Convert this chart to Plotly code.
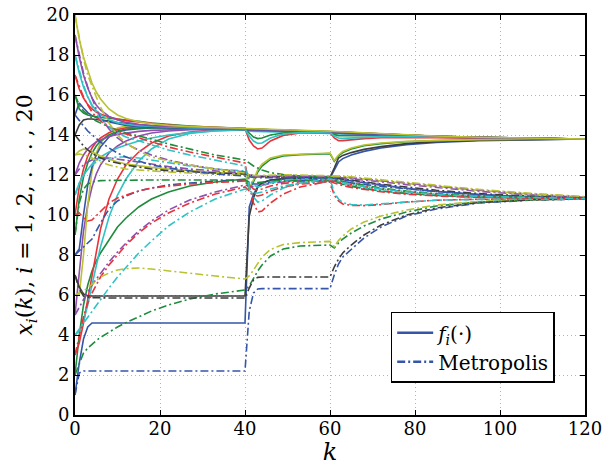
import plotly.graph_objects as go

K = [0, 1, 2, 3, 4, 5, 6, 8, 10, 12, 15, 18, 22, 27, 33, 40,
     41, 42, 43, 44, 46, 49, 53, 60,
     61, 62, 63, 65, 68, 72, 78, 85, 95, 108, 120]

# ---- f_i(.) trajectories (solid) ----
f1 = [1.0, 2.6, 3.8, 4.4, 4.6, 4.6, 4.6, 4.6, 4.6, 4.6, 4.6, 4.6, 4.6, 4.6, 4.6, 4.6,
      10.4, 11.05, 11.4, 11.6, 11.75, 11.8, 11.82, 11.85,
      12.25, 12.65, 12.82, 13.0, 13.18, 13.35, 13.52, 13.63, 13.72, 13.77, 13.8]
f2 = [2.0, 4.0, 5.5, 6.5, 7.2, 7.7, 8.1, 8.75, 9.4, 9.85, 10.4, 10.8, 11.15, 11.45, 11.65, 11.8,
      11.3, 11.65, 12.15, 12.45, 12.78, 12.95, 13.02, 13.07,
      12.68, 12.95, 13.12, 13.3, 13.46, 13.57, 13.66, 13.72, 13.76, 13.79, 13.8]
f3 = [3.0, 3.6, 4.6, 5.8, 7.1, 8.3, 9.3, 10.8, 11.8, 12.5, 13.15, 13.6, 13.95, 14.15, 14.25, 14.28,
      14.26, 14.25, 14.24, 14.23, 14.22, 14.2, 14.18, 14.14,
      14.12, 14.11, 14.1, 14.08, 14.05, 14.02, 13.97, 13.92, 13.87, 13.82, 13.8]
f4 = [4.0, 4.2, 4.7, 5.5, 6.5, 7.5, 8.4, 9.9, 11.0, 11.8, 12.7, 13.3, 13.8, 14.08, 14.22, 14.27,
      14.2, 14.18, 14.17, 14.17, 14.16, 14.15, 14.13, 14.1,
      14.08, 14.06, 14.05, 14.03, 14.0, 13.97, 13.93, 13.89, 13.85, 13.81, 13.79]
f5 = [5.0, 7.3, 9.2, 10.5, 11.4, 12.05, 12.5, 13.1, 13.45, 13.7, 13.95, 14.1, 14.2, 14.26, 14.28, 14.28,
      14.25, 14.24, 14.23, 14.22, 14.21, 14.19, 14.17, 14.13,
      14.11, 14.1, 14.09, 14.07, 14.04, 14.01, 13.96, 13.91, 13.86, 13.82, 13.8]
f6 = [6.0, 6.0, 8.0, 10.5, 12.2, 13.1, 13.6, 14.1, 14.35, 14.45, 14.48, 14.47, 14.44, 14.4, 14.36, 14.32,
      14.32, 14.31, 14.3, 14.29, 14.28, 14.26, 14.23, 14.18,
      14.17, 14.16, 14.15, 14.13, 14.1, 14.06, 14.0, 13.94, 13.88, 13.83, 13.8]
f7 = [7.0, 6.4, 6.05, 5.95, 5.95, 5.95, 5.95, 5.95, 5.95, 5.95, 5.95, 5.95, 5.95, 5.95, 5.95, 5.95,
      9.95, 10.85, 11.4, 11.6, 11.75, 11.82, 11.85, 11.88,
      12.35, 12.85, 12.98, 13.12, 13.28, 13.42, 13.57, 13.67, 13.74, 13.78, 13.8]
f8 = [8.0, 8.3, 10.0, 11.5, 12.4, 13.0, 13.4, 13.9, 14.15, 14.25, 14.32, 14.35, 14.35, 14.34, 14.32, 14.3,
      14.27, 14.26, 14.25, 14.24, 14.23, 14.21, 14.19, 14.15,
      14.13, 14.12, 14.11, 14.09, 14.06, 14.03, 13.98, 13.93, 13.87, 13.82, 13.8]
f9 = [9.0, 10.8, 11.9, 12.6, 13.1, 13.45, 13.7, 14.0, 14.2, 14.3, 14.35, 14.37, 14.37, 14.36, 14.34, 14.3,
      14.3, 14.29, 14.28, 14.27, 14.26, 14.24, 14.21, 14.16,
      14.15, 14.14, 14.13, 14.11, 14.08, 14.04, 13.99, 13.93, 13.88, 13.83, 13.8]
f10 = [10.0, 11.4, 12.3, 12.95, 13.35, 13.65, 13.85, 14.12, 14.28, 14.36, 14.42, 14.43, 14.41, 14.38, 14.35, 14.31,
       14.28, 14.27, 14.26, 14.25, 14.24, 14.22, 14.2, 14.16,
       14.14, 14.13, 14.12, 14.1, 14.07, 14.03, 13.98, 13.93, 13.87, 13.82, 13.8]
f11 = [11.0, 11.6, 12.0, 12.3, 12.55, 12.75, 12.9, 13.15, 13.35, 13.5, 13.7, 13.85, 14.0, 14.12, 14.2, 14.25,
       14.21, 14.2, 14.19, 14.18, 14.17, 14.16, 14.14, 14.11,
       14.09, 14.08, 14.07, 14.05, 14.02, 13.99, 13.95, 13.9, 13.86, 13.82, 13.8]
f12 = [12.0, 12.6, 13.0, 13.3, 13.5, 13.65, 13.75, 13.92, 14.03, 14.1, 14.18, 14.23, 14.27, 14.29, 14.29, 14.28,
       14.24, 14.23, 14.22, 14.21, 14.2, 14.18, 14.16, 14.12,
       14.1, 14.09, 14.08, 14.06, 14.03, 14.0, 13.96, 13.91, 13.86, 13.82, 13.8]
f13 = [13.0, 13.2, 13.3, 13.25, 13.15, 13.05, 12.95, 12.8, 12.65, 12.55, 12.45, 12.38, 12.3, 12.22, 12.13, 12.05,
       11.35, 11.75, 12.25, 12.55, 12.85, 13.0, 13.05, 13.1,
       12.72, 13.0, 13.18, 13.35, 13.5, 13.6, 13.68, 13.73, 13.77, 13.79, 13.8]
f14 = [14.0, 14.5, 14.75, 14.8, 14.8, 14.78, 14.75, 14.7, 14.62, 14.56, 14.5, 14.46, 14.42, 14.39, 14.35, 14.31,
       14.31, 14.3, 14.29, 14.28, 14.27, 14.25, 14.22, 14.17,
       14.16, 14.15, 14.14, 14.12, 14.09, 14.05, 14.0, 13.94, 13.88, 13.83, 13.8]
f15 = [15.0, 15.6, 15.35, 15.12, 14.97, 14.87, 14.78, 14.65, 14.55, 14.48, 14.42, 14.39, 14.37, 14.35, 14.33, 14.3,
       14.27, 14.26, 14.25, 14.24, 14.23, 14.21, 14.19, 14.15,
       14.13, 14.12, 14.11, 14.09, 14.06, 14.02, 13.97, 13.92, 13.87, 13.82, 13.8]
f16 = [16.0, 15.3, 15.1, 15.0, 14.95, 14.9, 14.88, 14.84, 14.8, 14.75, 14.68, 14.6, 14.52, 14.45, 14.38, 14.33,
       14.1, 13.9, 13.82, 13.85, 14.0, 14.1, 14.15, 14.15,
       14.02, 13.97, 13.96, 13.97, 13.98, 13.97, 13.95, 13.9, 13.86, 13.82, 13.8]
f17 = [17.0, 16.3, 15.85, 15.52, 15.3, 15.15, 15.05, 14.9, 14.8, 14.72, 14.65, 14.58, 14.5, 14.44, 14.38, 14.32,
       13.75, 13.45, 13.3, 13.35, 13.7, 13.98, 14.1, 14.12,
       13.85, 13.72, 13.72, 13.76, 13.82, 13.86, 13.88, 13.87, 13.84, 13.81, 13.8]
f18 = [18.0, 17.1, 16.4, 15.9, 15.5, 15.22, 15.02, 14.76, 14.62, 14.54, 14.47, 14.43, 14.4, 14.37, 14.34, 14.3,
       13.95, 13.7, 13.58, 13.6, 13.85, 14.05, 14.12, 14.13,
       13.95, 13.85, 13.83, 13.85, 13.9, 13.92, 13.92, 13.9, 13.86, 13.82, 13.8]
f19 = [19.0, 17.9, 17.0, 16.35, 15.85, 15.5, 15.25, 14.93, 14.75, 14.63, 14.53, 14.47, 14.43, 14.4, 14.36, 14.32,
       14.31, 14.3, 14.29, 14.28, 14.27, 14.25, 14.22, 14.17,
       14.16, 14.15, 14.14, 14.12, 14.09, 14.05, 14.0, 13.94, 13.88, 13.83, 13.8]
f20 = [20.0, 18.8, 17.9, 17.2, 16.6, 16.15, 15.8, 15.3, 15.0, 14.82, 14.66, 14.56, 14.48, 14.42, 14.37, 14.33,
       14.33, 14.32, 14.31, 14.3, 14.29, 14.27, 14.24, 14.19,
       14.18, 14.17, 14.16, 14.14, 14.11, 14.07, 14.01, 13.95, 13.89, 13.84, 13.8]

# ---- Metropolis trajectories (dash-dot) ----
m1 = [1.0, 2.1, 2.2, 2.2, 2.2, 2.2, 2.2, 2.2, 2.2, 2.2, 2.2, 2.2, 2.2, 2.2, 2.2, 2.2,
      5.2, 6.1, 6.3, 6.32, 6.32, 6.32, 6.32, 6.32,
      7.0, 7.55, 7.9, 8.3, 8.85, 9.4, 9.95, 10.3, 10.6, 10.75, 10.8]
m2 = [2.0, 2.6, 3.1, 3.35, 3.55, 3.72, 3.88, 4.15, 4.4, 4.62, 4.92, 5.2, 5.5, 5.8, 6.05, 6.25,
      6.45, 6.85, 7.2, 7.5, 7.95, 8.3, 8.45, 8.5,
      8.35, 8.6, 8.8, 9.1, 9.45, 9.8, 10.15, 10.45, 10.65, 10.76, 10.8]
m3 = [3.0, 4.0, 4.9, 5.6, 6.1, 6.5, 6.9, 7.5, 8.0, 8.5, 9.1, 9.6, 10.1, 10.6, 11.05, 11.4,
      11.2, 11.0, 10.95, 11.0, 11.2, 11.4, 11.55, 11.65,
      11.0, 10.7, 10.55, 10.48, 10.47, 10.52, 10.65, 10.74, 10.79, 10.8, 10.8]
m4 = [4.0, 4.3, 4.6, 4.9, 5.2, 5.5, 5.8, 6.35, 6.9, 7.4, 8.1, 8.7, 9.45, 10.15, 10.8, 11.3,
      11.2, 11.1, 11.1, 11.15, 11.3, 11.45, 11.6, 11.72,
      11.7, 11.62, 11.55, 11.45, 11.33, 11.2, 11.07, 10.97, 10.88, 10.83, 10.8]
m5 = [5.0, 5.4, 5.8, 6.15, 6.5, 6.8, 7.1, 7.65, 8.15, 8.6, 9.2, 9.7, 10.25, 10.75, 11.15, 11.5,
      11.45, 11.42, 11.45, 11.5, 11.58, 11.65, 11.72, 11.8,
      11.82, 11.79, 11.76, 11.7, 11.6, 11.48, 11.33, 11.18, 11.02, 10.9, 10.84]
m6 = [6.0, 6.1, 6.2, 6.35, 6.55, 6.75, 6.9, 7.1, 7.25, 7.32, 7.35, 7.3, 7.2, 7.08, 6.95, 6.8,
      6.95, 7.25, 7.6, 7.9, 8.28, 8.52, 8.62, 8.68,
      8.42, 8.72, 8.95, 9.3, 9.65, 9.95, 10.25, 10.5, 10.68, 10.77, 10.8]
m7 = [7.0, 6.3, 5.95, 5.88, 5.87, 5.86, 5.85, 5.85, 5.85, 5.85, 5.85, 5.85, 5.85, 5.85, 5.85, 5.85,
      6.35, 6.75, 6.88, 6.9, 6.9, 6.9, 6.9, 6.9,
      7.4, 7.8, 8.1, 8.5, 9.0, 9.5, 10.0, 10.35, 10.62, 10.76, 10.8]
m8 = [8.0, 8.2, 8.4, 8.6, 8.8, 9.2, 9.6, 10.3, 10.7, 10.95, 11.2, 11.35, 11.5, 11.6, 11.7, 11.75,
      11.6, 11.55, 11.55, 11.6, 11.65, 11.7, 11.72, 11.75,
      11.72, 11.68, 11.65, 11.6, 11.53, 11.43, 11.3, 11.17, 11.02, 10.9, 10.83]
m9 = [9.0, 10.6, 11.3, 11.55, 11.65, 11.7, 11.72, 11.73, 11.74, 11.75, 11.75, 11.75, 11.75, 11.75, 11.75, 11.75,
      11.65, 11.6, 11.62, 11.65, 11.7, 11.72, 11.74, 11.75,
      11.68, 11.6, 11.54, 11.44, 11.32, 11.2, 11.08, 10.98, 10.9, 10.84, 10.8]
m10 = [10.0, 10.1, 9.85, 9.7, 9.75, 9.95, 10.2, 10.6, 10.85, 11.0, 11.2, 11.35, 11.45, 11.55, 11.62, 11.7,
       11.5, 11.3, 11.25, 11.3, 11.45, 11.58, 11.66, 11.72,
       11.7, 11.64, 11.59, 11.52, 11.42, 11.3, 11.16, 11.04, 10.93, 10.86, 10.82]
m11 = [11.0, 11.6, 12.0, 12.3, 12.5, 12.65, 12.75, 12.85, 12.9, 12.9, 12.85, 12.75, 12.6, 12.45, 12.3, 12.2,
       11.8, 11.5, 11.4, 11.45, 11.6, 11.75, 11.82, 11.85,
       11.1, 10.8, 10.62, 10.52, 10.5, 10.55, 10.66, 10.74, 10.78, 10.8, 10.8]
m12 = [12.0, 12.3, 12.5, 12.65, 12.75, 12.8, 12.85, 12.85, 12.8, 12.75, 12.65, 12.55, 12.42, 12.3, 12.2, 12.1,
       12.0, 11.95, 11.93, 11.93, 11.94, 11.95, 11.94, 11.92,
       11.9, 11.88, 11.87, 11.83, 11.76, 11.66, 11.52, 11.37, 11.18, 11.0, 10.88]
m13 = [13.0, 13.05, 13.0, 12.95, 12.85, 12.75, 12.65, 12.5, 12.4, 12.3, 12.25, 12.2, 12.15, 12.1, 12.05, 12.0,
       11.95, 11.92, 11.92, 11.93, 11.95, 11.96, 11.96, 11.95,
       11.93, 11.92, 11.9, 11.87, 11.8, 11.7, 11.57, 11.42, 11.23, 11.03, 10.9]
m14 = [14.0, 13.7, 13.45, 13.25, 13.1, 12.95, 12.85, 12.7, 12.6, 12.5, 12.4, 12.3, 12.22, 12.15, 12.1, 12.05,
       12.0, 11.95, 11.93, 11.92, 11.9, 11.9, 11.9, 11.88,
       11.85, 11.82, 11.8, 11.75, 11.66, 11.54, 11.4, 11.24, 11.07, 10.93, 10.85]
m15 = [15.0, 14.7, 14.45, 14.2, 14.0, 13.8, 13.65, 13.35, 13.1, 12.9, 12.7, 12.5, 12.35, 12.2, 12.05, 11.95,
       11.9, 11.88, 11.87, 11.87, 11.87, 11.87, 11.86, 11.85,
       11.82, 11.79, 11.76, 11.7, 11.6, 11.48, 11.33, 11.18, 11.02, 10.9, 10.84]
m16 = [16.0, 15.5, 15.2, 15.0, 14.85, 14.7, 14.6, 14.4, 14.25, 14.1, 13.95, 13.8, 13.55, 13.3, 13.0, 12.75,
       12.6, 12.45, 12.35, 12.25, 12.12, 12.02, 11.95, 11.9,
       11.78, 11.72, 11.68, 11.6, 11.48, 11.35, 11.2, 11.07, 10.95, 10.86, 10.81]
m17 = [17.0, 16.4, 15.9, 15.5, 15.15, 14.9, 14.7, 14.4, 14.2, 14.05, 13.85, 13.65, 13.4, 13.15, 12.9, 12.6,
       11.5, 10.6, 10.15, 10.2, 10.6, 11.05, 11.4, 11.7,
       11.6, 11.52, 11.47, 11.38, 11.27, 11.16, 11.04, 10.95, 10.88, 10.83, 10.8]
m18 = [18.0, 17.2, 16.5, 15.9, 15.45, 15.1, 14.8, 14.4, 14.1, 13.9, 13.7, 13.5, 13.25, 13.0, 12.75, 12.45,
       11.4, 10.9, 10.65, 10.7, 11.0, 11.35, 11.6, 11.8,
       11.75, 11.68, 11.62, 11.53, 11.42, 11.3, 11.16, 11.04, 10.93, 10.86, 10.82]
m19 = [19.0, 18.0, 17.1, 16.4, 15.8, 15.3, 14.9, 14.3, 13.85, 13.55, 13.25, 13.0, 12.75, 12.5, 12.3, 12.15,
       12.0, 11.92, 11.9, 11.92, 11.95, 11.96, 11.95, 11.93,
       11.91, 11.9, 11.89, 11.86, 11.8, 11.71, 11.58, 11.43, 11.24, 11.04, 10.9]
m20 = [20.0, 18.9, 17.8, 17.0, 16.4, 15.9, 15.4, 14.6, 14.0, 13.6, 13.2, 12.9, 12.7, 12.5, 12.3, 12.1,
       12.0, 11.97, 11.97, 11.98, 12.0, 12.01, 12.0, 11.97,
       11.96, 11.95, 11.94, 11.91, 11.85, 11.76, 11.63, 11.48, 11.28, 11.07, 10.92]

F_SERIES = [f1, f2, f3, f4, f5, f6, f7, f8, f9, f10, f11, f12, f13, f14, f15, f16, f17, f18, f19, f20]
M_SERIES = [m1, m2, m3, m4, m5, m6, m7, m8, m9, m10, m11, m12, m13, m14, m15, m16, m17, m18, m19, m20]

# colour cycle b g r c m y k
COLORS = ["#3556a8", "#1f8c3c", "#e8333a", "#30c3c6", "#8e4fae", "#b9c233", "#3d3d3d"]

X_TICKS = [0, 20, 40, 60, 80, 100, 120]
Y_TICKS = [0, 2, 4, 6, 8, 10, 12, 14, 16, 18, 20]

for s in F_SERIES + M_SERIES:
    if len(s) != len(K):
        raise ValueError("length mismatch")

FONT = "DejaVu Serif"
DASHDOT = "8px,3px,2px,3px"

fig = go.Figure()
for i, ys in enumerate(F_SERIES):
    fig.add_trace(go.Scatter(x=K, y=ys, mode="lines", showlegend=False, hoverinfo="skip",
                             line=dict(color=COLORS[i % 7], width=1.6)))
for i, ys in enumerate(M_SERIES):
    fig.add_trace(go.Scatter(x=K, y=ys, mode="lines", showlegend=False, hoverinfo="skip",
                             line=dict(color=COLORS[i % 7], width=1.6, dash=DASHDOT)))

# legend entries
fig.add_trace(go.Scatter(x=[None], y=[None], mode="lines", name="<i>f<sub>i</sub></i>(·)",
                         line=dict(color=COLORS[0], width=2.4)))
fig.add_trace(go.Scatter(x=[None], y=[None], mode="lines", name="Metropolis",
                         line=dict(color=COLORS[0], width=2.4, dash=DASHDOT)))

axis_common = dict(
    showline=True, linecolor="black", linewidth=1.8, mirror="allticks",
    ticks="inside", ticklen=5, tickcolor="black", tickwidth=1.2,
    showgrid=True, gridcolor="#b4b4b4", griddash="1px,3px", gridwidth=1,
    zeroline=False, automargin=False,
    tickfont=dict(family=FONT, size=18, color="black"),
)

fig.update_layout(
    width=603, height=466,
    margin=dict(l=75, r=18, t=15, b=51),
    plot_bgcolor="white", paper_bgcolor="white",
    xaxis=dict(range=[0, 120], tickmode="array", tickvals=X_TICKS, ticklabelstandoff=-4,
               title=dict(text="<i>k</i>", font=dict(family=FONT, size=24, color="black"), standoff=0),
               **axis_common),
    yaxis=dict(range=[0, 20], tickmode="array", tickvals=Y_TICKS,
               title=dict(text="<i>x<sub>i</sub></i>(<i>k</i>), <i>i</i> = 1, 2, . . . , 20",
                          font=dict(family=FONT, size=22, color="black"), standoff=8),
               **axis_common),
    legend=dict(x=0.619, y=0.258, xanchor="left", yanchor="top",
                bgcolor="white", bordercolor="black", borderwidth=1.5,
                font=dict(family=FONT, size=20, color="black"),
                tracegroupgap=0, itemwidth=36),
)

fig.write_html("out.html")
